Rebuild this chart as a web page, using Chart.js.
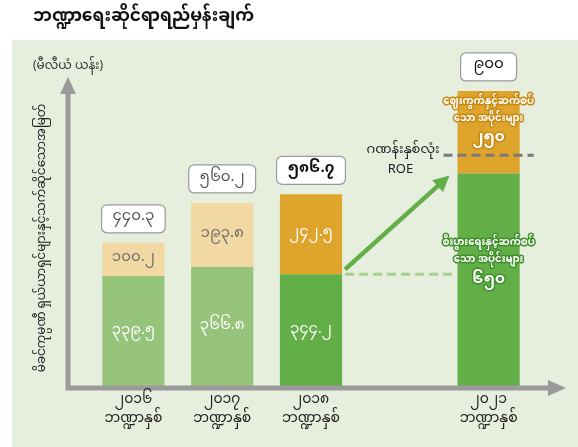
<!DOCTYPE html>
<html>
<head>
<meta charset="utf-8">
<script src="https://cdn.jsdelivr.net/npm/chart.js@4"></script>
<style>
html, body { margin: 0; padding: 0; background: #fff; }
canvas { display: block; }
</style>
</head>
<body>
<canvas id="chart" width="578" height="447"></canvas>
<script>
const title = 'ဘဏ္ဍာရေးဆိုင်ရာရည်မှန်းချက်';
const unitLabel = '(မီလီယံ ယန်း)';
const yTitle = 'မိခင်ကုမ္ပဏီ ရှယ်ယာရှင်များနှင့်သက်ဆိုင်သောအမြတ်';
const years = ['၂၀၁၆', '၂၀၁၇', '၂၀၁၈', '', '၂၀၂၁'];
const fyLabel = 'ဘဏ္ဍာနှစ်';

// lower part (business related) and upper part (market related), million yen
const coreValues = [339.5, 366.8, 344.2, null, 650];
const marketValues = [100.2, 193.8, 242.5, null, 250];
const coreLabels = ['၃၃၉.၅', '၃၆၆.၈', '၃၄၄.၂', '', '၆၅၀'];
const marketLabels = ['၁၀၀.၂', '၁၉၃.၈', '၂၄၂.၅', '', '၂၅၀'];
const totalLabels = ['၄၄၀.၃', '၅၆၀.၂', '၅၈၆.၇', '', '၉၀၀'];
const coreColors = ['#95c47a', '#95c47a', '#62ae47', '#62ae47', '#62ae47'];
const marketColors = ['#f2d8a2', '#f2d8a2', '#dea42b', '#dea42b', '#dea42b'];
const coreText = ['စီးပွားရေးနှင့်ဆက်စပ်', 'သော အပိုင်းများ'];
const marketText = ['ဈေးကွက်နှင့်ဆက်စပ်', 'သော အပိုင်းများ'];
const roeText = ['ဂဏန်းနှစ်လုံး', 'ROE'];
const roeLevel = 705;

const font = '"Noto Sans Myanmar", "Padauk", "Myanmar Text", "Noto Sans", sans-serif';

function roundRect(c, x, y, w, h, r) {
    c.beginPath();
    c.moveTo(x + r, y);
    c.lineTo(x + w - r, y);
    c.quadraticCurveTo(x + w, y, x + w, y + r);
    c.lineTo(x + w, y + h - r);
    c.quadraticCurveTo(x + w, y + h, x + w - r, y + h);
    c.lineTo(x + r, y + h);
    c.quadraticCurveTo(x, y + h, x, y + h - r);
    c.lineTo(x, y + r);
    c.quadraticCurveTo(x, y, x + r, y);
    c.closePath();
}

function arrowHead(c, x, y, angle, len, half) {
    c.beginPath();
    c.moveTo(x, y);
    c.lineTo(x - len * Math.cos(angle) + half * Math.sin(angle), y - len * Math.sin(angle) - half * Math.cos(angle));
    c.lineTo(x - len * Math.cos(angle) - half * Math.sin(angle), y - len * Math.sin(angle) + half * Math.cos(angle));
    c.closePath();
    c.fill();
}

const overlay = {
    id: 'overlay',
    beforeDraw(chart) {
        const c = chart.ctx;
        c.save();
        c.fillStyle = '#fff';
        c.fillRect(0, 0, chart.width, chart.height);
        c.fillStyle = '#e6eedd';
        c.fillRect(12, 40, chart.width - 12, chart.height - 40);
        c.fillStyle = '#111';
        c.font = 'bold 17px ' + font;
        c.textAlign = 'left';
        c.textBaseline = 'middle';
        c.fillText(title, 33, 19);
        c.restore();
    },
    afterDatasetsDraw(chart) {
        const c = chart.ctx;
        const area = chart.chartArea;
        const y = chart.scales.y;
        const bars = chart.getDatasetMeta(0).data;
        c.save();
        c.textAlign = 'center';
        c.textBaseline = 'middle';

        // dashed level line from 2018 to the target bar
        const b3 = bars[2], b4 = bars[4];
        c.strokeStyle = '#a9d08e';
        c.lineWidth = 3;
        c.setLineDash([9, 5]);
        c.beginPath();
        c.moveTo(b3.x + b3.width / 2 + 3, y.getPixelForValue(coreValues[2]));
        c.lineTo(b4.x - b4.width / 2, y.getPixelForValue(coreValues[2]));
        c.stroke();

        // ROE dashed line
        c.strokeStyle = '#7a7a7a';
        c.beginPath();
        c.moveTo(b4.x - b4.width / 2 - 14, y.getPixelForValue(roeLevel));
        c.lineTo(b4.x + b4.width / 2 + 14, y.getPixelForValue(roeLevel));
        c.stroke();
        c.setLineDash([]);

        // growth arrow
        const sx = b3.x + b3.width / 2 + 3, sy = y.getPixelForValue(coreValues[2]) - 5;
        const ex = b4.x - b4.width / 2 - 8, ey = y.getPixelForValue(coreValues[4]) + 2;
        const ang = Math.atan2(ey - sy, ex - sx);
        c.strokeStyle = '#62ae47';
        c.fillStyle = '#62ae47';
        c.lineWidth = 4.5;
        c.beginPath();
        c.moveTo(sx, sy);
        c.lineTo(ex - 10 * Math.cos(ang), ey - 10 * Math.sin(ang));
        c.stroke();
        arrowHead(c, ex, ey, ang, 16, 8);

        // axes
        c.fillStyle = '#9a9a9a';
        c.strokeStyle = '#9a9a9a';
        c.lineWidth = 5;
        c.beginPath();
        c.moveTo(68, area.bottom + 2.5);
        c.lineTo(68, area.top + 12);
        c.moveTo(66, area.bottom);
        c.lineTo(550, area.bottom);
        c.stroke();
        arrowHead(c, 68, area.top - 3, -Math.PI / 2, 17, 8);
        arrowHead(c, 566, area.bottom, 0, 18, 8);

        // segment labels and total boxes
        bars.forEach((bar, i) => {
            if (coreValues[i] === null) return;
            const top = y.getPixelForValue(coreValues[i] + marketValues[i]);
            const mid = y.getPixelForValue(coreValues[i]);
            if (i < 4) {
                c.font = '15px ' + font;
                c.fillStyle = '#fff';
                c.fillText(coreLabels[i], bar.x, (mid + area.bottom) / 2);
                c.fillStyle = i < 2 ? '#6f6f6f' : '#fff';
                c.fillText(marketLabels[i], bar.x, (top + mid) / 2);
            } else {
                c.lineJoin = 'round';
                const halo = (lines, y0, col) => {
                    lines.forEach((t, k) => {
                        c.font = (k === 2 ? 'bold 15px ' : 'bold 10px ') + font;
                        const yy = y0 + k * 17 + (k === 2 ? 3 : 0);
                        c.strokeStyle = col;
                        c.lineWidth = 3;
                        c.strokeText(t, bar.x, yy);
                        c.fillStyle = '#fff';
                        c.fillText(t, bar.x, yy);
                    });
                };
                halo([marketText[0], marketText[1], marketLabels[i]], top + 12, '#c98a14');
                halo([coreText[0], coreText[1], coreLabels[i]], mid + 71, '#3f8f2a');
            }
            c.font = (i === 2 ? 'bold 15px ' : '15px ') + font;
            const w = Math.max(56, c.measureText(totalLabels[i]).width + 22);
            roundRect(c, bar.x - w / 2, top - 38, w, 28, 6);
            c.fillStyle = '#fff';
            c.fill();
            c.strokeStyle = '#9a9a9a';
            c.lineWidth = 1.2;
            c.stroke();
            c.fillStyle = i < 2 ? '#555' : '#111';
            c.fillText(totalLabels[i], bar.x, top - 24);
        });

        // category labels
        c.fillStyle = '#222';
        c.font = '14px ' + font;
        bars.forEach((bar, i) => {
            if (!years[i]) return;
            c.fillText(years[i], bar.x, area.bottom + 14);
            c.fillText(fyLabel, bar.x, area.bottom + 33);
        });

        // ROE label
        c.font = '13px ' + font;
        c.textAlign = 'right';
        c.fillText(roeText[0], b4.x - b4.width / 2 - 18, y.getPixelForValue(roeLevel) - 4);
        c.textAlign = 'center';
        c.font = '13px "Noto Sans", sans-serif';
        c.fillText(roeText[1], b4.x - b4.width / 2 - 57, y.getPixelForValue(roeLevel) + 14);

        // unit and axis title
        c.font = '12px ' + font;
        c.fillStyle = '#333';
        c.fillText(unitLabel, 68, 68);
        c.translate(44, 238);
        c.rotate(-Math.PI / 2);
        c.font = '12px ' + font;
        c.fillStyle = '#222';
        c.fillText(yTitle, 0, 0);
        c.restore();
    }
};

new Chart(document.getElementById('chart'), {
    type: 'bar',
    data: {
        labels: years,
        datasets: [
            { data: coreValues, backgroundColor: coreColors, borderWidth: 0 },
            { data: marketValues, backgroundColor: marketColors, borderWidth: 0 }
        ]
    },
    options: {
        responsive: false,
        animation: false,
        events: [],
        layout: { padding: { left: 89, right: 45, top: 80, bottom: 59 } },
        barPercentage: 0.7,
        categoryPercentage: 1,
        scales: {
            x: { display: false, stacked: true },
            y: { display: false, stacked: true, min: 0, max: 933 }
        },
        plugins: { legend: { display: false }, tooltip: { enabled: false } }
    },
    plugins: [overlay]
});
</script>
</body>
</html>
